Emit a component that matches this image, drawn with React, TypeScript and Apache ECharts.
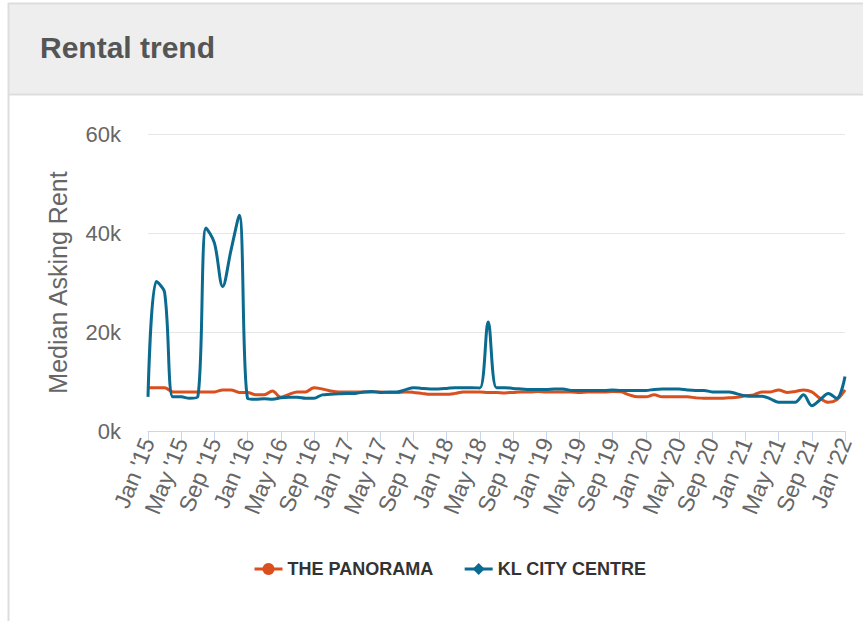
import React, { useEffect, useRef } from "react";
import * as echarts from "echarts";

const monthNames = ["Jan", "Feb", "Mar", "Apr", "May", "Jun", "Jul", "Aug", "Sep", "Oct", "Nov", "Dec"];
const categories: string[] = [];
for (let y = 15; y <= 22; y++) {
  for (let m = 0; m < 12; m++) {
    if (y === 22 && m > 0) break;
    categories.push(`${monthNames[m]} '${y}`);
  }
}

const panorama = [
  8750, 8750, 8750, 7900, 7900, 7900, 7900, 7900, 7900, 8300, 8300, 7800,
  7800, 7300, 7300, 8100, 6800, 7400, 7900, 7900, 8750, 8500, 8100, 7900,
  7900, 7900, 7900, 7900, 7900, 7800, 7800, 7900, 7800, 7600, 7400, 7400,
  7400, 7600, 7900, 7900, 7900, 7800, 7800, 7700, 7800, 7900, 7900, 8000,
  7900, 7900, 7900, 7900, 7800, 7900, 7900, 7900, 8000, 7900, 7300, 6900,
  6900, 7300, 6900, 6900, 6900, 6900, 6700, 6600, 6600, 6600, 6700, 6800,
  7100, 7300, 7900, 7900, 8300, 7800, 8000, 8300, 7900, 6600, 5800, 6300,
  8300,
];

const klCityCentre = [
  6900, 30200, 28000, 6900, 6900, 6600, 6900, 41000, 38000, 29200, 36500, 43600,
  6600, 6400, 6500, 6400, 6700, 6800, 6800, 6600, 6600, 7300, 7400, 7500,
  7600, 7600, 7900, 8000, 7800, 7900, 7900, 8300, 8750, 8600, 8500, 8500,
  8600, 8750, 8750, 8750, 8700, 22000, 8750, 8750, 8600, 8500, 8400, 8400,
  8400, 8500, 8500, 8200, 8200, 8200, 8200, 8200, 8300, 8200, 8200, 8200,
  8200, 8400, 8500, 8500, 8500, 8300, 8200, 8200, 7900, 7900, 7900, 7500,
  7100, 7000, 7000, 6500, 5800, 5800, 5800, 7300, 5100, 6300, 7600, 6600,
  11000,
];

const yTicks = [0, 20000, 40000, 60000];

export default function App() {
  const ref = useRef<HTMLDivElement>(null);
  useEffect(() => {
    if (!ref.current) return;
    const chart = echarts.init(ref.current, undefined, { renderer: "svg" });
    const font = "'Liberation Sans', Arial, Helvetica, sans-serif";
    chart.setOption({
      animation: false,
      backgroundColor: "#ffffff",
      textStyle: { fontFamily: font },
      graphic: [
        { type: "rect", shape: { x: 8, y: 3, width: 860, height: 91 }, style: { fill: "#eeeeee" }, z: -10 },
        { type: "line", shape: { x1: 8, y1: 3.5, x2: 863, y2: 3.5 }, style: { stroke: "#dddddd", lineWidth: 2 }, z: -9 },
        { type: "line", shape: { x1: 8, y1: 94.5, x2: 863, y2: 94.5 }, style: { stroke: "#dddddd", lineWidth: 2 }, z: -9 },
        { type: "line", shape: { x1: 8.5, y1: 3, x2: 8.5, y2: 621 }, style: { stroke: "#dddddd", lineWidth: 2 }, z: -9 },
        {
          type: "text",
          x: 40,
          y: 47,
          style: {
            text: "Rental trend",
            fill: "#555555",
            font: `bold 30px ${font}`,
            verticalAlign: "middle",
            align: "left",
          },
        },
      ],
      grid: { left: 148, right: 18, top: 134, bottom: 190, containLabel: false },
      legend: {
        left: 248,
        top: 555,
        itemGap: 30,
        itemWidth: 28,
        itemHeight: 15,
        lineStyle: { width: 3 },
        textStyle: { fontFamily: font, fontWeight: "bold", fontSize: 18, color: "#333333" },
        data: ["THE PANORAMA", "KL CITY CENTRE"],
      },
      xAxis: {
        type: "category",
        data: categories,
        boundaryGap: false,
        axisLine: { lineStyle: { color: "#ccd6eb", width: 1 } },
        axisTick: { show: true, interval: 3, length: 10, lineStyle: { color: "#ccd6eb" } },
        axisLabel: { interval: 3, rotate: 68, fontSize: 23, color: "#666666", margin: 8, fontFamily: font },
        splitLine: { show: false },
      },
      yAxis: {
        type: "value",
        min: yTicks[0],
        max: yTicks[yTicks.length - 1],
        interval: 20000,
        name: "Median Asking Rent",
        nameLocation: "middle",
        nameRotate: 90,
        nameGap: 78,
        nameTextStyle: { fontSize: 25, color: "#666666", fontFamily: font },
        axisLine: { show: false },
        axisTick: { show: false },
        axisLabel: {
          fontSize: 22,
          color: "#666666",
          margin: 27,
          fontFamily: font,
          formatter: (v: number) => `${v / 1000}k`,
        },
        splitLine: { lineStyle: { color: "#e6e6e6", width: 1 } },
      },
      series: [
        {
          name: "THE PANORAMA",
          type: "line",
          data: panorama,
          smooth: 0.35,
          symbol: "circle",
          symbolSize: 12,
          showSymbol: false,
          color: "#d9501e",
          lineStyle: { width: 3, color: "#d9501e" },
        },
        {
          name: "KL CITY CENTRE",
          type: "line",
          data: klCityCentre,
          smooth: 0.35,
          symbol: "diamond",
          symbolSize: 12,
          showSymbol: false,
          color: "#0b6a8f",
          lineStyle: { width: 3, color: "#0b6a8f" },
        },
      ],
    });
    return () => chart.dispose();
  }, []);
  return (
    <div
      ref={ref}
      style={{ position: "fixed", left: 0, top: 0, width: 863, height: 621, background: "#fff" }}
    />
  );
}
